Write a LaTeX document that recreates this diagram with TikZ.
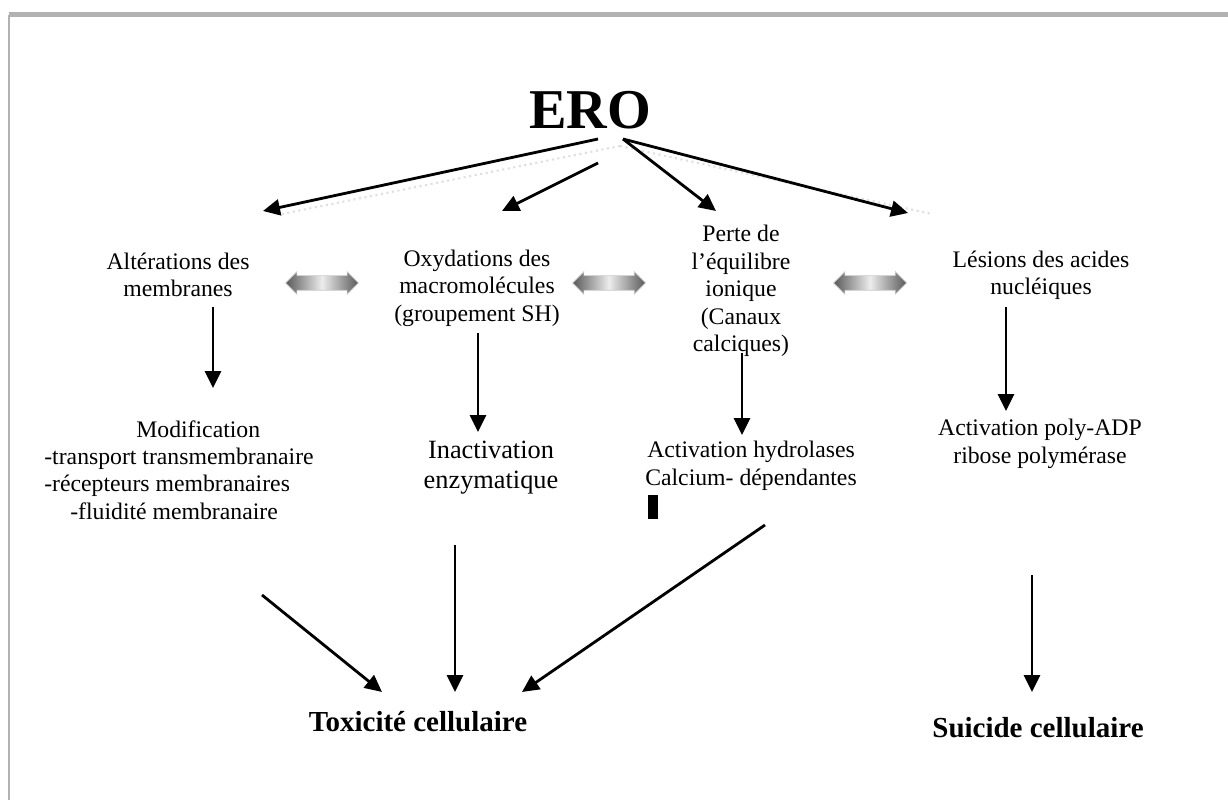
\documentclass[tikz,border=0pt]{standalone}
\usepackage{fontspec}
\setmainfont{Liberation Serif}
\usetikzlibrary{arrows.meta,shapes.arrows}

\begin{document}
\begin{tikzpicture}[x=0.02cm,y=-0.02cm,
    txt/.style={align=center,font=\fontsize{13.5}{15.6}\selectfont,inner sep=0pt},
    bigtxt/.style={align=center,font=\fontsize{15}{17}\selectfont,inner sep=0pt},
    result/.style={font=\fontsize{16.5}{19}\selectfont\bfseries,inner sep=0pt},
    arr/.style={line width=1.6pt,-{Triangle[length=0.34cm,width=0.32cm]}},
    ghost/.style={gray!25,line width=1.2pt,dotted},
    dblarrow/.style={double arrow,draw=gray!40,left color=gray!70!black,right color=gray!70!black,middle color=gray!15,
        minimum height=1.46cm,inner sep=0.14cm,double arrow head extend=0.08cm}]
    \useasboundingbox (0,0) rectangle (1228,800);
    % frame
    \draw[gray!60,line width=0.1cm] (9,15) -- (1228,15);
    \draw[gray!60,line width=0.06cm] (9,15) -- (9,800);

    % top
    \node[font=\fontsize{32}{36}\selectfont\bfseries] (ero) at (590,110) {ERO};

    % first row
    \node[txt] (alter) at (178,275) {Altérations des\\membranes};
    \node[txt] (oxyd) at (477,288) {Oxydations des\\macromolécules\\(groupement SH)};
    \node[txt] (perte) at (741,291) {Perte de\\l’équilibre\\ionique\\(Canaux\\calciques)};
    \node[txt] (lesion) at (1041,275) {Lésions des acides\\nucléiques};

    \node[dblarrow] (dbl1) at (322,283) {};
    \node[dblarrow] (dbl2) at (609,283) {};
    \node[dblarrow] (dbl3) at (870,283) {};

    % second row
    \node[txt,align=left,anchor=west] (modif) at (44,470) {\hspace*{1.84cm}Modification\\-transport transmembranaire\\-récepteurs membranaires\\\hspace*{0.52cm}-fluidité membranaire};
    \node[bigtxt] (inact) at (491,468) {Inactivation\\enzymatique};
    \node[txt] (hydro) at (751,466) {Activation hydrolases\\Calcium- dépendantes};
    \node[fill=black,inner sep=0pt,minimum width=0.2cm,minimum height=0.5cm] (mark) at (653,507) {};
    \node[txt] (poly) at (1040,444) {Activation poly-ADP\\ribose polymérase};

    % results
    \node[result] (toxic) at (418,722) {Toxicité cellulaire};
    \node[result] (suicide) at (1038,728) {Suicide cellulaire};

    % arrow ends
    \coordinate (eroL) at (598,139);
    \coordinate (eroM) at (598,163);
    \coordinate (eroR) at (623,139);
    \coordinate (eroG) at (620,146);
    \coordinate (alterIn) at (263,211);
    \coordinate (alterG) at (282,214);
    \coordinate (oxydIn) at (502,211);
    \coordinate (perteIn) at (716,211);
    \coordinate (lesionIn) at (908,213);
    \coordinate (lesionG) at (932,214);
    \coordinate (alterOut) at (213,307);
    \coordinate (modifIn) at (213,388);
    \coordinate (oxydOut) at (478,333);
    \coordinate (inactIn) at (478,432);
    \coordinate (perteOut) at (742,353);
    \coordinate (hydroIn) at (742,435);
    \coordinate (lesionOut) at (1006,307);
    \coordinate (polyIn) at (1006,411);
    \coordinate (modifOut) at (262,595);
    \coordinate (inactOut) at (455,545);
    \coordinate (hydroOut) at (765,525);
    \coordinate (polyOut) at (1032,575);
    \coordinate (toxicL) at (382,692);
    \coordinate (toxicM) at (455,692);
    \coordinate (toxicR) at (522,692);
    \coordinate (suicideIn) at (1032,692);

    % faint lines
    \draw[ghost] (eroG) -- (alterG);
    \draw[ghost] (eroG) -- (lesionG);

    % arrows
    \draw[arr] (eroL) -- (alterIn);
    \draw[arr] (eroM) -- (oxydIn);
    \draw[arr] (eroR) -- (perteIn);
    \draw[arr] (eroR) -- (lesionIn);
    \draw[arr] (alterOut) -- (modifIn);
    \draw[arr] (oxydOut) -- (inactIn);
    \draw[arr] (perteOut) -- (hydroIn);
    \draw[arr] (lesionOut) -- (polyIn);
    \draw[arr] (modifOut) -- (toxicL);
    \draw[arr] (inactOut) -- (toxicM);
    \draw[arr] (hydroOut) -- (toxicR);
    \draw[arr] (polyOut) -- (suicideIn);
\end{tikzpicture}
\end{document}
